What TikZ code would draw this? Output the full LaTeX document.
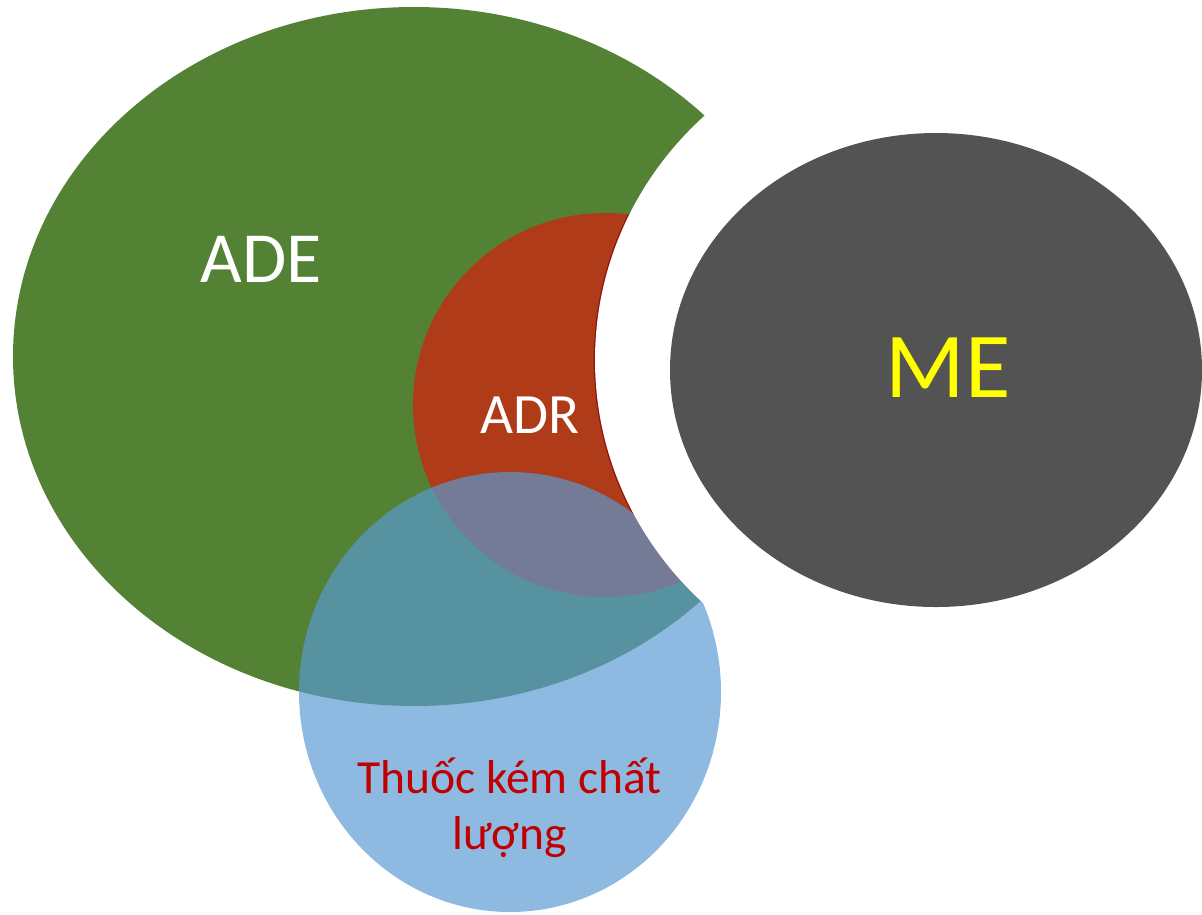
\documentclass[tikz,border=0pt]{standalone}
\usepackage{fontspec}
\setmainfont{Carlito}
\definecolor{adegreen}{RGB}{84,130,53}
\definecolor{adrred}{RGB}{175,59,25}
\definecolor{adredge}{RGB}{140,20,10}
\definecolor{qblue}{RGB}{89,154,212}
\definecolor{megray}{RGB}{83,83,83}
\definecolor{txtred}{RGB}{192,0,0}
\definecolor{meyellow}{RGB}{255,255,0}
\tikzset{
  lbl/.style={anchor=base, inner sep=0pt, align=center},
}
\begin{document}
\begin{tikzpicture}[x=1pt,y=-1pt]
\useasboundingbox (0,0) rectangle (1202,914);
% ADE
\fill[adegreen] (414,356.5) ellipse [x radius=401pt, y radius=349.5pt];
% ADR
\fill[adrred] (605,405) circle [radius=192pt];
% poor quality drugs
\fill[qblue, fill opacity=0.68] (510,692) ellipse [x radius=211pt, y radius=220pt];
% dark edge of ADR along the gap
\begin{scope}
  \clip (605,405) circle [radius=192pt];
  \begin{scope}[even odd rule]
    \clip (510,692) ellipse [x radius=211pt, y radius=220pt] (0,0) rectangle (1202,914);
    \draw[adredge, line width=2.6pt] (937,360) ellipse [x radius=342pt, y radius=333pt];
  \end{scope}
\end{scope}
% white gap around ME
\fill[white] (937,360) ellipse [x radius=342pt, y radius=333pt];
% ME
\fill[megray] (936,370) ellipse [x radius=266pt, y radius=237pt];
% labels
\node[lbl, text=white, font=\fontsize{72}{86}\selectfont] (ade) at (261,282) {ADE};
\node[lbl, text=white, font=\fontsize{57}{68}\selectfont] (adr) at (530,433) {ADR};
\node[lbl, text=meyellow, font=\fontsize{93}{112}\selectfont] (me) at (948,397) {ME};
\node[lbl, text=txtred, font=\fontsize{47.5}{58}\selectfont] (tk1) at (509.5,793) {Thuốc kém chất};
\node[lbl, text=txtred, font=\fontsize{47.5}{58}\selectfont] (tk2) at (509.5,849) {lượng};
\end{tikzpicture}
\end{document}
